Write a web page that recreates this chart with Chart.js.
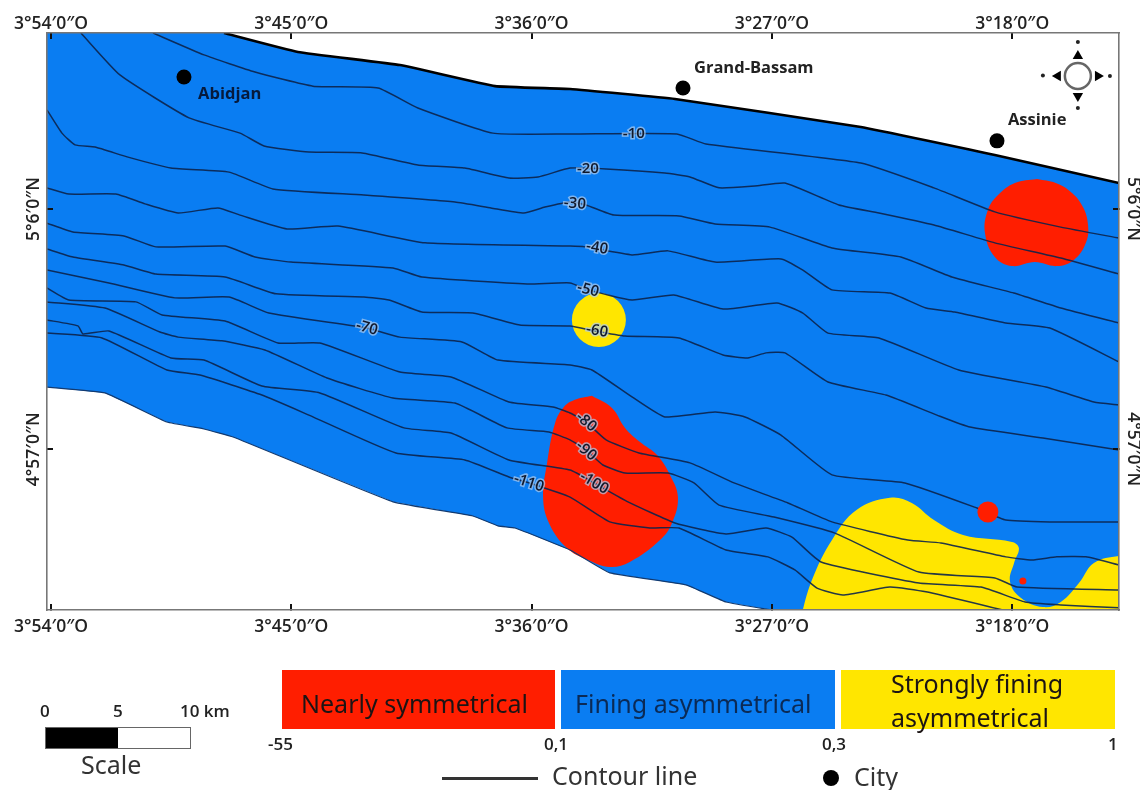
<!DOCTYPE html>
<html>
<head>
<meta charset="utf-8">
<title>Skewness map</title>
<script src="https://cdn.jsdelivr.net/npm/chart.js@4/dist/chart.umd.min.js"></script>
<style>
  html, body { margin: 0; background: #fff; }
  #page { position: relative; width: 1140px; height: 790px; overflow: hidden; font-family: "Noto Sans", sans-serif; color: #222; }
  canvas { position: absolute; left: 0; top: 0; }
  .box { position: absolute; top: 670px; height: 59px; font-size: 25px; line-height: 34px; color: #1c1414; }
  .box span { position: absolute; white-space: nowrap; }
  .abs { position: absolute; white-space: nowrap; }
  .small { font: 600 17px/23px "Open Sans", sans-serif; color: #222; }
  .big { font-size: 25px; line-height: 28px; color: #333; }
</style>
</head>
<body>
<div id="page">
  <canvas id="map" width="1140" height="790"></canvas>

  <div class="box" style="left:282px;width:273px;background:#ff1e00"><span style="left:19px;top:16px">Nearly symmetrical</span></div>
  <div class="box" style="left:561px;width:274px;background:#0a7df2"><span style="left:14px;top:16px;color:#0b2a55">Fining asymmetrical</span></div>
  <div class="box" style="left:841px;width:274px;background:#ffe600"><span style="left:50px;top:-4px">Strongly fining</span><span style="left:50px;top:30px">asymmetrical</span></div>
  <div class="abs small" style="left:268px;top:732px">-55</div>
  <div class="abs small" style="left:544px;top:732px">0,1</div>
  <div class="abs small" style="left:822px;top:732px">0,3</div>
  <div class="abs small" style="left:1108px;top:732px">1</div>

  <div class="abs small" style="left:40px;top:699px">0</div>
  <div class="abs small" style="left:113px;top:699px">5</div>
  <div class="abs small" style="left:180px;top:699px">10 km</div>
  <div class="abs" style="left:45px;top:727px;width:144px;height:20px;border:1px solid #666;background:linear-gradient(90deg,#000 50%,#fff 50%)"></div>
  <div class="abs big" style="left:81px;top:750px">Scale</div>

  <div class="abs" style="left:442px;top:777px;width:96px;height:3px;background:#333"></div>
  <div class="abs big" style="left:552px;top:761px">Contour line</div>
  <div class="abs" style="left:823px;top:770px;width:16px;height:16px;border-radius:50%;background:#000"></div>
  <div class="abs big" style="left:854px;top:762px">City</div>
</div>

<script>
// Graticule: x is arc-minutes east of 3°54'W, y is arc-minutes north of 4°48'N
const lonTicks = [0, 9, 18, 27, 36];
const lonLabels = ["3°54′0″O", "3°45′0″O", "3°36′0″O", "3°27′0″O", "3°18′0″O"];
const latTicks = [9, 18];
const latLabels = ["4°57′0″N", "5°6′0″N"];

// --- Shoreline and shelf limit ---
const coastTop = [[6.48,24.59],[9.25,23.88],[13.07,23.39],[16.63,22.60],[19.44,22.49],[23.37,22.12],[30.33,21.07],[35.35,20.02],[40,18.97]];
const coastBottom = [[-0.15,11.33],[2.02,11.11],[4.34,10.02],[5.73,9.76],[6.82,9.46],[12.81,7.03],[15.80,6.50],[16.74,6.13],[17.38,6.05],[19.44,5.23],[20.93,4.37],[23.78,3.92],[25.28,3.28],[27,2.98]];
const seaCornersNW = [[-0.15,24.59]];
const seaCornersSE = [[40,2.98]];

// --- Isobaths ---
const contourLevels = [-10, -20, -30, -40, -50, -60, -70, -80, -90, -100, -110];
const depth10 = [[3.82,24.59],[5.73,23.77],[7.64,23.13],[9.81,22.60],[12.25,22.53],[13.74,21.78],[16.55,20.84],[19.44,20.81],[23.44,20.81],[24.53,20.43],[30.33,19.72],[33.07,18.79],[35.35,17.89],[37.82,17.32],[40,16.91]];
const depth20 = [[1.12,24.59],[2.58,23.02],[5.17,21.41],[7.08,20.84],[7.98,20.36],[9.66,20.13],[11.65,20.10],[13.74,19.65],[15.50,19.53],[17.15,19.16],[18.24,19.20],[19.44,19.53],[20.79,19.50],[22.99,19.35],[23.93,19.20],[25.02,18.79],[26.36,18.86],[27.49,18.97],[29.51,18.15],[31.01,17.85],[33.07,17.40],[35.35,16.73],[37.82,16.16],[40,15.56]];
const depth30 = [[-0.15,21.71],[0.41,20.84],[0.90,20.40],[1.65,20.32],[2.85,19.95],[4.49,19.53],[6.67,19.38],[8.31,18.75],[11.72,18.52],[15.13,18.26],[16.48,18.04],[17.71,17.85],[18.50,18.07],[19.44,18.26],[20.04,18.15],[21.08,17.77],[23.52,17.74],[24.87,17.44],[26.93,17.32],[29.25,16.54],[31.83,16.20],[33.74,15.45],[36.06,14.85],[37.82,14.29],[40,13.73]];
const depth40 = [[-0.15,18.79],[0.67,18.56],[2.43,18.56],[3.52,18.19],[4.76,17.85],[6.25,18.04],[7.08,17.77],[8.84,17.25],[10.75,17.36],[14.01,16.73],[19.44,16.61],[20.00,16.58],[21.76,16.28],[23.11,16.43],[24.87,16.01],[27.34,16.13],[28.16,15.71],[29.25,14.97],[31.42,14.85],[32.77,14.29],[33.85,14.14],[35.76,13.73],[37.41,13.54],[40,12.27]];
const depth50 = [[-0.15,17.47],[0.82,17.14],[2.73,16.99],[3.93,16.58],[6.52,16.61],[7.64,16.20],[8.99,16.01],[12.81,15.79],[13.89,15.45],[17.83,15.19],[19.44,15.23],[20.11,14.97],[21.76,14.59],[23.33,14.78],[25.17,14.25],[27.19,14.48],[28.16,14.10],[29.10,13.35],[31.01,13.17],[34.00,11.97],[37.26,11.33],[39.06,10.77],[40,10.66]];
const depth60 = [[-0.15,16.50],[0.82,16.20],[2.73,15.90],[3.93,15.56],[6.52,15.45],[8.43,14.82],[11.72,14.70],[12.66,14.59],[13.89,14.14],[15.80,14.10],[17.56,13.65],[19.44,13.62],[20.37,13.43],[21.50,13.24],[23.52,13.17],[25.17,12.53],[26.10,12.42],[26.78,12.61],[27.49,12.61],[29.10,11.52],[31.27,11.03],[33.18,10.28],[34.42,9.83],[37.15,9.42],[40,8.97]];
const depth70 = [[-0.15,15.71],[2.17,15.23],[4.64,14.67],[6.67,14.70],[8.16,14.10],[11.83,13.54],[13.07,13.20],[15.39,13.02],[16.74,12.34],[19.44,12.16],[20.26,11.97],[21.76,10.96],[22.99,10.21],[24.87,10.40],[25.99,10.21],[27.34,9.53],[29.25,8.04],[31.98,7.74],[34.68,6.80],[35.76,6.35],[37.41,6.28],[40,6.28]];
const depth80 = [[-0.15,15.04],[0.67,14.59],[3.18,14.52],[4.16,14.03],[6.52,13.80],[8.50,12.98],[10.07,12.98],[13.07,11.89],[14.98,11.71],[17.15,10.77],[18.80,10.58],[19.44,10.36],[20.04,10.02],[20.79,9.35],[22.02,8.86],[23.93,8.49],[25.58,7.74],[27.60,6.99],[29.25,6.28],[32.09,5.60],[33.33,5.49],[35.76,4.97],[36.74,4.85],[37.67,4.97],[38.76,4.97],[40,4.67]];
const depth90 = [[-0.15,14.52],[2.02,14.29],[4.08,13.39],[4.76,13.20],[6.40,13.06],[8.01,12.72],[10.34,11.67],[12.81,10.92],[15.13,10.73],[17.08,9.80],[18.65,9.65],[19.44,9.35],[20.04,8.97],[20.67,8.41],[21.50,8.11],[23.11,8.11],[24.08,7.74],[25.02,6.91],[27.08,6.46],[29.36,5.86],[32.51,4.40],[35.35,4.18],[36.18,3.84],[40,3.73]];
const depth100 = [[-0.15,13.84],[1.01,13.62],[1.20,13.32],[2.17,13.43],[4.49,12.42],[5.73,12.34],[7.90,11.37],[10.07,11.11],[13.22,9.80],[14.98,9.61],[17.15,8.60],[19.44,8.22],[20.34,7.74],[21.61,7.03],[23.37,6.24],[25.28,5.83],[26.78,6.05],[27.75,5.71],[28.84,4.78],[32.51,3.99],[34.83,3.84],[36.48,3.28],[37.82,3.17],[40,3.06]];
const depth110 = [[-0.15,13.35],[1.91,13.17],[4.34,11.97],[5.58,11.78],[7.90,11.03],[9.66,10.28],[12.92,8.86],[15.50,8.60],[17.15,7.96],[17.90,7.74],[19.44,7.21],[20.93,6.28],[22.43,6.05],[23.52,6.05],[25.28,5.23],[26.85,4.97],[27.86,4.48],[28.69,3.80],[29.66,3.54],[31.42,3.84],[32.77,3.66],[35.65,2.98]];
const contours = [depth10, depth20, depth30, depth40, depth50, depth60, depth70, depth80, depth90, depth100, depth110];

// where each isobath carries its depth label, and the slope of the text in degrees
const contourLabelAt = [[21.83,20.81],[20.11,19.50],[19.62,18.19],[20.45,16.54],[20.11,14.97],[20.45,13.43],[11.83,13.54],[20.04,10.02],[20.04,8.94],[20.34,7.74],[17.90,7.74]];
const contourLabelSlope = [0, 0, 5, 10, 15, 10, 15, 40, 40, 30, 18];

// --- Skewness patches ---
const redPatchEast = [[36.93,19.12],[37.63,18.97],[38.24,18.60],[38.65,18.07],[38.84,17.40],[38.76,16.73],[38.31,16.09],[37.67,15.86],[36.85,16.01],[35.99,15.86],[35.35,16.20],[34.98,17.10],[35.09,17.96],[35.47,18.52],[36.10,18.97],[36.93,19.12]];
const redPatchCentre = [[20.26,11.00],[21.01,10.55],[21.50,9.80],[22.06,9.27],[22.69,8.79],[23.18,8.04],[23.48,7.21],[23.26,6.24],[22.81,5.60],[21.68,4.78],[20.93,4.59],[20.11,4.85],[19.32,5.30],[18.65,6.24],[18.43,7.21],[18.58,8.49],[18.88,9.98],[19.21,10.58],[19.62,10.85],[20.26,11.00]];
const yellowPatchSouth = [[28.05,2.6],[28.50,4.10],[29.25,5.60],[30.18,6.73],[31.42,7.18],[32.24,6.99],[33.07,6.35],[34.16,5.79],[35.99,5.53],[36.25,5.30],[36.07,4.74],[35.92,4.03],[36.33,3.43],[37.15,3.09],[37.82,3.28],[38.50,3.99],[39.06,4.74],[40,5.00],[40.6,5.00],[40.6,2.6],[28.05,2.6]];
const yellowSpot = [[20.52,13.84]];
const redSpot = [[35.09,6.65]];
const redDot = [[36.40,4.07]];

// --- Cities ---
const cityNames = ["Abidjan", "Grand-Bassam", "Assinie"];
const cityPoints = [[4.98,22.94],[23.67,22.53],[35.43,20.55]];
const cityLabelAt = [[5.51,22.31],[24.08,23.28],[35.84,21.33]];

// --- Compass rose ---
const compassCentre = [[38.46,22.98]];
const compassArms = [[38.46,23.73],[39.21,22.98],[38.46,22.23],[37.71,22.98]];
const compassArmTurn = [0, 90, 180, 270];
const compassTips = [[38.46,24.25],[39.66,22.98],[38.46,21.78],[37.15,23.00]];

function xy(list) {
  return list.map(p => ({ x: p[0], y: p[1] }));
}

function patch(list, color, order) {
  return {
    data: xy(list), showLine: true, fill: "shape", backgroundColor: color,
    borderColor: color, borderWidth: 0, pointRadius: 0, tension: 0.4, order: order,
  };
}

function spot(list, color, radius, order) {
  return {
    data: xy(list), showLine: false, pointRadius: radius, pointBackgroundColor: color,
    pointBorderWidth: 0, order: order,
  };
}

const sea = seaCornersNW.concat(coastTop, seaCornersSE, coastBottom.slice().reverse());

const datasets = [
  { data: xy(sea), showLine: true, fill: "shape", backgroundColor: "#0a7df2", borderWidth: 0, pointRadius: 0, tension: 0, order: 20 },
  patch(redPatchEast, "#ff1e00", 15),
  patch(redPatchCentre, "#ff1e00", 15),
  patch(yellowPatchSouth, "#ffe600", 15),
  spot(yellowSpot, "#ffe600", 27, 15),
  { data: xy(coastBottom), showLine: true, borderColor: "#123a70", borderWidth: 1.2, pointRadius: 0, tension: 0.1, order: 14 },
  { data: xy(coastTop), showLine: true, borderColor: "#000", borderWidth: 2.6, pointRadius: 0, tension: 0.1, order: 3 },
  spot(redSpot, "#ff1e00", 10.5, 4),
  spot(redDot, "#ff1e00", 3.5, 4),
  spot(cityPoints, "#000", 7.5, 2),
  spot(compassTips, "#222", 2, 2),
  { data: xy(compassArms), showLine: false, pointStyle: "triangle", pointRadius: 6, pointRotation: compassArmTurn, pointBackgroundColor: "#000", pointBorderWidth: 0, order: 2 },
  { data: xy(compassCentre), showLine: false, pointRadius: 13, pointBackgroundColor: "#fff", pointBorderColor: "#666", pointBorderWidth: 2.5, order: 1 },
];

contours.forEach(c => {
  datasets.push({ data: xy(c), showLine: true, borderColor: "rgba(12,35,75,0.9)", borderWidth: 1.5, pointRadius: 0, tension: 0.15, order: 10 });
});

// Depth figures and city names sit on the map itself
const mapLabels = {
  id: "mapLabels",
  afterDatasetsDraw(chart) {
    const { ctx, scales: { x, y } } = chart;
    ctx.save();
    ctx.textBaseline = "middle";
    ctx.textAlign = "center";
    ctx.font = '600 15px "Open Sans", sans-serif';
    contourLevels.forEach((level, i) => {
      const at = contourLabelAt[i];
      ctx.save();
      ctx.translate(x.getPixelForValue(at[0]), y.getPixelForValue(at[1]));
      ctx.rotate(contourLabelSlope[i] * Math.PI / 180);
      ctx.lineWidth = 3;
      ctx.strokeStyle = "rgba(175,205,240,0.7)";
      ctx.strokeText(String(level), 0, 0);
      ctx.fillStyle = "#10182a";
      ctx.fillText(String(level), 0, 0);
      ctx.restore();
    });
    ctx.textAlign = "left";
    ctx.font = 'bold 16.5px "Open Sans", sans-serif';
    cityNames.forEach((name, i) => {
      const at = cityLabelAt[i];
      ctx.fillStyle = i === 0 ? "#061a3c" : "#222";
      ctx.fillText(name, x.getPixelForValue(at[0]), y.getPixelForValue(at[1]));
    });
    ctx.restore();
  },
};

function lonAxis(position, size, pad) {
  return {
    type: "linear", axis: "x", position: position, min: -0.15, max: 40,
    grid: { drawOnChartArea: false, color: "#111", lineWidth: 2, tickLength: -6, z: 3 },
    border: { color: "#777", width: 1.6, z: 3 },
    ticks: {
      font: { family: "Open Sans", size: 17.5, weight: 600 }, color: "#222", padding: pad, maxRotation: 0,
      callback: v => lonLabels[lonTicks.indexOf(v)],
    },
    afterBuildTicks: axis => { axis.ticks = lonTicks.map(v => ({ value: v })); },
    afterFit: scale => { scale.height = size; scale.paddingLeft = 0; scale.paddingRight = 0; },
  };
}

function latAxis(position, size, turn, pad) {
  return {
    type: "linear", axis: "y", position: position, min: 2.98, max: 24.59,
    grid: { drawOnChartArea: false, color: "#111", lineWidth: 2, tickLength: -6, z: 3 },
    border: { color: "#777", width: 1.6, z: 3 },
    ticks: {
      font: { family: "Open Sans", size: 17.5, weight: 600 }, color: "#222", padding: pad,
      minRotation: turn, maxRotation: turn, crossAlign: "center",
      callback: v => latLabels[latTicks.indexOf(v)],
    },
    afterBuildTicks: axis => { axis.ticks = latTicks.map(v => ({ value: v })); },
    afterFit: scale => { scale.width = size; scale.paddingTop = 0; scale.paddingBottom = 0; },
  };
}

new Chart(document.getElementById("map"), {
  type: "scatter",
  data: { datasets: datasets },
  options: {
    responsive: false,
    animation: false,
    // the big yellow spot would otherwise pad the plot area on the right
    layout: { padding: 0, autoPadding: false },
    plugins: { legend: { display: false }, tooltip: { enabled: false } },
    scales: {
      x: lonAxis("bottom", 180, 13),
      xTop: lonAxis("top", 33, 4),
      y: latAxis("left", 47, 90, -18),
      yRight: latAxis("right", 21, -90, -17),
    },
  },
  plugins: [mapLabels],
});
</script>
</body>
</html>
